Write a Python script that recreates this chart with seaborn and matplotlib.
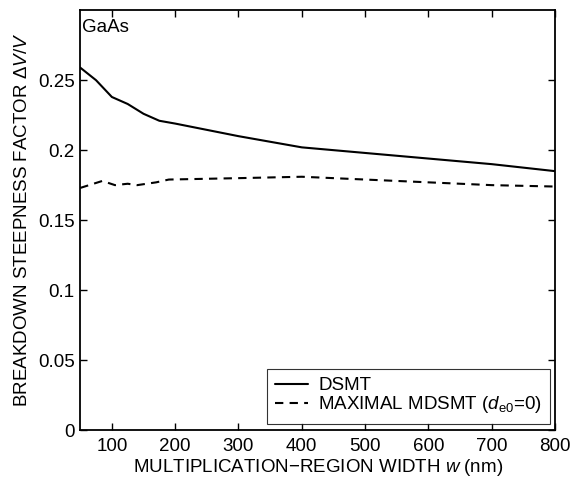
import numpy as np
import pandas as pd
import matplotlib.pyplot as plt
import seaborn as sns

w_dsmt = [50, 75, 100, 125, 150, 175, 200, 300, 400, 500, 600, 700, 800]
dsmt = [0.259, 0.250, 0.238, 0.233, 0.226, 0.221, 0.219, 0.210, 0.202, 0.198, 0.194, 0.190, 0.185]

w_mdsmt = [50, 85, 105, 125, 140, 170, 190, 300, 400, 500, 600, 700, 800]
mdsmt = [0.173, 0.178, 0.175, 0.176, 0.175, 0.177, 0.179, 0.180, 0.181, 0.179, 0.177, 0.175, 0.174]

labels = ['DSMT', r'MAXIMAL MDSMT ($d_{\rm e0}$=0)']

df = pd.concat([
    pd.DataFrame({'w': w_dsmt, 'val': dsmt, 'model': labels[0]}),
    pd.DataFrame({'w': w_mdsmt, 'val': mdsmt, 'model': labels[1]}),
])

sns.set_style('ticks')
plt.rcParams['font.family'] = ['Liberation Sans', 'DejaVu Sans']
plt.rcParams['mathtext.fontset'] = 'custom'
plt.rcParams['mathtext.it'] = 'Liberation Sans:italic'
plt.rcParams['mathtext.rm'] = 'Liberation Sans'
plt.rcParams['text.color'] = 'black'
plt.rcParams['axes.labelcolor'] = 'black'
plt.rcParams['xtick.color'] = 'black'
plt.rcParams['ytick.color'] = 'black'
plt.rcParams['axes.edgecolor'] = 'black'

fs = 13.5

fig = plt.figure(figsize=(5.77, 4.87), dpi=100)
ax = fig.add_axes([0.139, 0.117, 0.823, 0.862])

sns.lineplot(data=df, x='w', y='val', style='model', color='black',
             dashes={labels[0]: '', labels[1]: (4, 3)}, linewidth=1.5, ax=ax)

ax.set_xlim(50, 800)
ax.set_ylim(0, 0.3)
ax.set_xticks([100, 200, 300, 400, 500, 600, 700, 800])
ax.set_yticks([0, 0.05, 0.1, 0.15, 0.2, 0.25])
ax.set_yticklabels(['0', '0.05', '0.1', '0.15', '0.2', '0.25'])
ax.tick_params(direction='in', top=True, right=True, length=5, width=1, labelsize=fs)
ax.tick_params(axis='x', pad=6)
ax.tick_params(axis='y', pad=4)
for s in ax.spines.values():
    s.set_linewidth(1.3)

ax.set_xlabel(r'MULTIPLICATION$-$REGION WIDTH $w$ (nm)', fontsize=fs, labelpad=1)
ax.set_ylabel(r'BREAKDOWN STEEPNESS FACTOR $\Delta V/V$', fontsize=fs, labelpad=5)
ax.text(0.004, 0.978, 'GaAs', transform=ax.transAxes, ha='left', va='top', fontsize=fs)

leg = ax.legend(loc='lower right', bbox_to_anchor=(0.99, 0.015), fontsize=fs,
                frameon=True, fancybox=False, edgecolor='black',
                handlelength=1.75, handletextpad=0.55, borderpad=0.45,
                labelspacing=0.0, borderaxespad=0.0)
leg.get_frame().set_linewidth(0.8)

fig.savefig('out.png', dpi=100)
